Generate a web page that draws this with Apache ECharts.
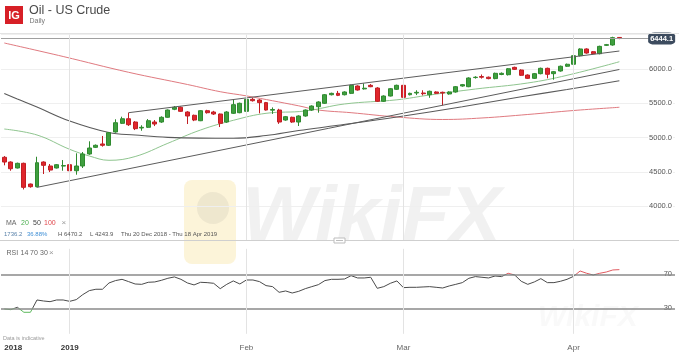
<!DOCTYPE html>
<html><head><meta charset="utf-8">
<script src="https://cdn.jsdelivr.net/npm/echarts/dist/echarts.min.js"></script>
<style>html,body{margin:0;padding:0;background:#fff}#c{width:679px;height:353px}</style>
</head><body><div id="c"></div>
<script>
// ---------- DATA ----------
const dates = [
 '2018-12-20','2018-12-21','2018-12-23','2018-12-24','2018-12-25','2018-12-26','2018-12-27','2018-12-28','2018-12-30','2018-12-31',
 '2019-01-01','2019-01-02','2019-01-03','2019-01-04','2019-01-06','2019-01-07','2019-01-08','2019-01-09','2019-01-10','2019-01-11',
 '2019-01-13','2019-01-14','2019-01-15','2019-01-16','2019-01-17','2019-01-18','2019-01-20','2019-01-21','2019-01-22','2019-01-23',
 '2019-01-24','2019-01-25','2019-01-27','2019-01-28','2019-01-29','2019-01-30','2019-01-31',
 '2019-02-01','2019-02-03','2019-02-04','2019-02-05','2019-02-06','2019-02-07','2019-02-08','2019-02-10','2019-02-11','2019-02-12',
 '2019-02-13','2019-02-14','2019-02-15','2019-02-17','2019-02-18','2019-02-19','2019-02-20','2019-02-21','2019-02-22','2019-02-24',
 '2019-02-25','2019-02-26','2019-02-27','2019-02-28',
 '2019-03-01','2019-03-03','2019-03-04','2019-03-05','2019-03-06','2019-03-07','2019-03-08','2019-03-10','2019-03-11','2019-03-12',
 '2019-03-13','2019-03-14','2019-03-15','2019-03-17','2019-03-18','2019-03-19','2019-03-20','2019-03-21','2019-03-22','2019-03-24',
 '2019-03-25','2019-03-26','2019-03-27','2019-03-28','2019-03-29','2019-03-31',
 '2019-04-01','2019-04-02','2019-04-03','2019-04-04','2019-04-05','2019-04-07','2019-04-08','2019-04-09',
 '2019-04-10','2019-04-11','2019-04-12','2019-04-14','2019-04-15','2019-04-16','2019-04-17','2019-04-18'
];
const opens = [4713,4644,4557,4625,4323,4284,4644,4586,4557,4585,
 4605,4517,4586,4761,4858,4907,4888,5082,5208,5275,
 5227,5140,5150,5227,5227,5296,5413,5442,5373,5325,
 5246,5392,5373,5344,5227,5354,5363,5383,5558,5548,
 5510,5400,5402,5256,5296,5227,5315,5402,5450,5500,
 5625,5645,5625,5645,5752,5710,5762,5723,5529,5606,
 5704,5762,5625,5650,5650,5625,5665,5660,5636,5665,
 5752,5742,5875,5890,5880,5860,5920,5917,6024,5985,
 5912,5864,5932,6010,5932,5971,6040,6069,6194,6292,
 6252,6223,6345,6350,6460];
const closes = [4644,4546,4625,4275,4284,4634,4596,4527,4605,4592,
 4517,4586,4761,4848,4888,4888,5072,5217,5275,5188,
 5130,5150,5246,5198,5296,5402,5442,5383,5315,5256,
 5392,5363,5344,5208,5373,5480,5500,5558,5538,5510,
 5402,5410,5227,5305,5227,5315,5402,5460,5519,5625,
 5645,5616,5665,5762,5694,5720,5742,5529,5606,5713,
 5762,5587,5645,5660,5640,5675,5645,5650,5665,5742,
 5772,5869,5880,5880,5860,5937,5937,6004,5995,5908,
 5864,5932,6010,5923,5961,6040,6069,6194,6292,6233,
 6223,6330,6355,6457,6444.1];
const lows = [4596,4517,4550,4243.9,4270,4275,4469,4498,4550,4517,
 4510,4459,4557,4750,4848,4868,4878,5072,5198,5170,
 5110,5100,5140,5168,5215,5290,5400,5375,5198,5240,
 5240,5350,5330,5154,5215,5345,5355,5375,5525,5354,
 5395,5345,5200,5245,5215,5169,5305,5390,5363,5490,
 5615,5605,5615,5635,5685,5700,5735,5520,5520,5600,
 5695,5578,5615,5620,5615,5580,5635,5471,5626,5655,
 5742,5735,5860,5860,5850,5850,5910,5905,5985,5898,
 5854,5854,5922,5864,5844,5961,6030,6059,6184,6223,
 6213,6213,6335,6340,6435];
const highs = [4731,4654,4635,4635,4330,4721,4654,4615,4615,4673,
 4620,4771,4790,4946,4900,5024,5082,5267,5305,5363,
 5240,5180,5270,5256,5310,5410,5460,5455,5385,5335,
 5400,5405,5390,5350,5385,5558,5510,5600,5580,5560,
 5520,5440,5420,5315,5305,5325,5410,5470,5530,5635,
 5655,5680,5675,5772,5762,5790,5780,5735,5616,5723,
 5772,5772,5655,5690,5690,5685,5675,5670,5675,5752,
 5782,5879,5895,5920,5890,5947,5950,6014,6034,5995,
 5922,5942,6020,6020,5971,6050,6079,6204,6302,6302,
 6262,6340,6365,6470.2,6465];
// moving averages: [candle index, value]
const ma20 = [[0,5125],[5,5038],[10,4829],[13,4732],[16,4669],[20,4724],[25,4917],[30,5111],[35,5252],[40,5354],[46,5388],[52,5490],[60,5551],[65,5621],[72,5708],[80,5796],[86,5908],[94,6106]];
const ma50 = [[0,5643],[2,5563],[5,5446],[10,5242],[16,5074],[20,5038],[25,5004],[35,4990],[40,5030],[45,5103],[51,5179],[60,5300],[70,5450],[79,5595],[86,5701],[94,5829]];
const ma100 = [[0,6379],[9,6182],[19,5952],[28,5774],[33,5669],[37,5608],[45,5463],[48,5402],[53,5363],[60,5300],[67,5264],[73,5286],[80,5337],[87,5395],[94,5442]];
// trend channel end points: [candle index, price]
const upperChannel = [[19,5363],[94,6262]];
const lowerChannel = [[5,4275],[94,5993]];
const rsi = [29.2,28.4,31.2,25.3,25.3,39.8,38.6,37.8,39.8,39.8,
 38.2,40.2,46.1,50.8,52.4,52.4,59.8,62.6,64.1,61.4,
 58.6,58.2,60.6,61.0,62.9,65.3,66.9,64.1,59.8,57.5,
 60.6,60.2,59.4,53.1,58.2,62.2,58.6,63.3,63.3,61.4,
 56.7,55.5,48.8,50.4,48.0,50.0,53.1,55.5,57.8,62.6,
 64.1,64.1,64.5,68.4,65.7,65.7,66.5,53.5,55.5,59.4,
 62.2,54.3,54.7,54.7,55.1,55.5,54.7,53.9,56.3,58.2,
 60.2,65.3,67.3,66.5,65.7,68.0,67.3,71.2,69.2,61.8,
 58.2,61.0,64.9,60.2,60.2,61.8,64.1,67.6,73.9,71.2,
 69.2,71.2,72.7,75.1,75.5];
const monthIdx = [10,37,61,87];
const xTickIdx = [0,10,37,61,87];
const xTickLabels = ['2018','2019','Feb','Mar','Apr'];
const lastPrice = 6444.1;

// ---------- CHART ----------
const FONT = 'Liberation Sans, Arial, sans-serif';
const chart = echarts.init(document.getElementById('c'));
const candles = opens.map((o,i)=>[o, closes[i], lows[i], highs[i]]);
const toPairs = arr => arr.map(p=>[dates[p[0]], p[1]]);
const monthLines = {silent:true, symbol:['none','none'], label:{show:false},
  lineStyle:{color:'#e3e3e3', width:1, type:'solid'}, data:monthIdx.map(i=>({xAxis:dates[i]}))};

const txt = (text,x,y,size,fill) => ({type:'text', z:50, style:{text, x, y, fontSize:size, fontFamily:FONT, fill, textVerticalAlign:'middle', verticalAlign:'middle'}});

chart.setOption({
  animation:false,
  backgroundColor:'#fff',
  textStyle:{fontFamily:FONT},
  grid:[
    {left:1, width:674, top:34.7, height:205.8, containLabel:false, outerBoundsMode:'none'},
    {left:1, width:674, top:248.8, height:85, containLabel:false, outerBoundsMode:'none'}
  ],
  xAxis:[
    {type:'category', gridIndex:0, data:dates, boundaryGap:true,
     axisLine:{show:false}, axisTick:{show:false}, axisLabel:{show:false}, splitLine:{show:false}},
    {type:'category', gridIndex:1, data:dates, boundaryGap:true,
     axisLine:{show:false}, axisTick:{show:false}, splitLine:{show:false},
     axisLabel:{show:true, margin:10, interval:(i)=>xTickIdx.includes(i),
       formatter:(v,i)=>{const k=xTickIdx.indexOf(i); if(k<0) return ''; const t=xTickLabels[k];
         if(k===0) return '{first|'+t+'}'; if(/^\d{4}$/.test(t)) return '{yr|'+t+'}'; return '{mo|'+t+'}';},
       rich:{first:{fontWeight:'bold',color:'#333',fontSize:8,fontFamily:FONT,padding:[0,0,0,18]},
             yr:{fontWeight:'bold',color:'#333',fontSize:8,fontFamily:FONT},
             mo:{color:'#666',fontSize:8,fontFamily:FONT}}}}
  ],
  yAxis:[
    {type:'value', gridIndex:0, position:'right', min:3500, max:6500, interval:500,
     axisLine:{show:false}, axisTick:{show:false},
     axisLabel:{inside:true, margin:2, fontSize:7.5, color:'#555', fontFamily:FONT,
       formatter:v=>(v===3500||v===6500)?'':v.toFixed(1), backgroundColor:'#fff', padding:[1,1]},
     splitLine:{lineStyle:{color:'#efefef', width:1}}},
    {type:'value', gridIndex:1, position:'right', min:0, max:100, interval:10,
     axisLine:{show:false}, axisTick:{show:false},
     axisLabel:{inside:true, margin:2, fontSize:7.5, color:'#555', fontFamily:FONT,
       formatter:v=>(v===30||v===70)?String(v):'', backgroundColor:'#fff', padding:[1,1]},
     splitLine:{show:false}}
  ],
  visualMap:[{type:'piecewise', show:false, seriesIndex:4,
    pieces:[{lt:30,color:'#5cb85c'},{gte:30,lte:70,color:'#4a4a4a'},{gt:70,color:'#e05a60'}]}],
  series:[
    {type:'candlestick', xAxisIndex:0, yAxisIndex:0, data:candles, barWidth:'68%', z:3,
     itemStyle:{color:'#3f9f3f', borderColor:'#2f8a2f', color0:'#e0262c', borderColor0:'#c11e24', borderWidth:1},
     markLine:{silent:true, symbol:['none','none'], label:{show:false},
       lineStyle:{color:'#5c5c5c', width:1, type:'solid'},
       data:[
         {yAxis:lastPrice, lineStyle:{color:'#a0a0a0', width:1, type:'solid'}},
         [{coord:[dates[upperChannel[0][0]], upperChannel[0][1]]},{coord:[dates[upperChannel[1][0]], upperChannel[1][1]]}],
         [{coord:[dates[lowerChannel[0][0]], lowerChannel[0][1]]},{coord:[dates[lowerChannel[1][0]], lowerChannel[1][1]]}]
       ]},
     markPoint:{silent:true, symbol:'roundRect', symbolSize:[27,12], symbolOffset:[3,0],
       itemStyle:{color:'#3d4c5f'},
       label:{show:true, color:'#fff', fontSize:7.5, fontWeight:'bold', fontFamily:FONT, formatter:lastPrice.toFixed(1)},
       data:[{coord:[dates[100], lastPrice]}]}
    },
    {type:'line', name:'MA20', xAxisIndex:0, yAxisIndex:0, data:toPairs(ma20), smooth:0.4, showSymbol:false, z:2,
     lineStyle:{color:'#8fc58f', width:1}},
    {type:'line', name:'MA50', xAxisIndex:0, yAxisIndex:0, data:toPairs(ma50), smooth:0.4, showSymbol:false, z:2,
     lineStyle:{color:'#5a5a5a', width:1.1}},
    {type:'line', name:'MA100', xAxisIndex:0, yAxisIndex:0, data:toPairs(ma100), smooth:0.4, showSymbol:false, z:1,
     lineStyle:{color:'#e07a80', width:1}, markLine:monthLines},
    {type:'line', name:'RSI', xAxisIndex:1, yAxisIndex:1, data:rsi, showSymbol:false, z:3,
     lineStyle:{width:1},
     markLine:{silent:true, symbol:['none','none'], label:{show:false},
       lineStyle:{color:'#8a8a8a', width:1.5, type:'solid'},
       data:[{yAxis:70},{yAxis:30}].concat(monthIdx.map(i=>({xAxis:dates[i], lineStyle:{color:'#e3e3e3', width:1}})))}}
  ],
  graphic:[
    // watermark
    {type:'rect', z:0, shape:{x:184,y:180,width:52,height:84,r:8}, style:{fill:'rgba(246,214,120,0.28)'}},
    {type:'circle', z:0, shape:{cx:213,cy:208,r:16}, style:{fill:'rgba(120,120,120,0.10)'}},
    {type:'text', z:0, style:{text:'WikiFX', x:242, y:219, font:'italic bold 78px Liberation Sans, Arial, sans-serif', fill:'rgba(175,175,175,0.18)', textVerticalAlign:'middle', verticalAlign:'middle'}},
    {type:'text', z:0, style:{text:'WikiFX', x:538, y:318, font:'italic bold 30px Liberation Sans, Arial, sans-serif', fill:'rgba(170,170,170,0.07)', textVerticalAlign:'middle', verticalAlign:'middle'}},
    // header
    {type:'line', z:40, shape:{x1:0,y1:33.5,x2:679,y2:33.5}, style:{stroke:'#e3e3e3', lineWidth:1}},
    {type:'rect', z:50, shape:{x:5,y:6,width:18,height:18}, style:{fill:'#d71f26'}},
    {type:'text', z:51, style:{text:'IG', x:14, y:15.5, font:'bold 11px Liberation Sans, Arial, sans-serif', fill:'#fff', textAlign:'center', align:'center', textVerticalAlign:'middle', verticalAlign:'middle'}},
    txt('Oil - US Crude',29,11,12.5,'#4a4a4a'),
    txt('Daily',29.5,21,7,'#777'),
    // legend rows
    txt('MA',6,223,7,'#666'),
    txt('20',21,223,7,'#4caf50'),
    txt('50',33,223,7,'#444'),
    txt('100',44,223,7,'#e0474c'),
    txt('\u00d7',61.5,223,8,'#999'),
    txt('1736.2',4,234,6,'#5a82aa'),
    txt('36.88%',27,234,6,'#3f8fd6'),
    txt('H 6470.2',58,234,6,'#555'),
    txt('L 4243.9',90,234,6,'#555'),
    txt('Thu 20 Dec 2018 - Thu 18 Apr 2019',121,234,6,'#555'),
    // panel separator
    {type:'line', z:40, shape:{x1:0,y1:240.5,x2:679,y2:240.5}, style:{stroke:'#cfcfcf', lineWidth:1}},
    {type:'rect', z:45, shape:{x:334,y:238,width:11,height:5}, style:{fill:'#fff', stroke:'#bdbdbd', lineWidth:1}},
    {type:'line', z:46, shape:{x1:336,y1:240.5,x2:343,y2:240.5}, style:{stroke:'#bdbdbd', lineWidth:1}},
    txt('RSI',6.5,253,7,'#666'),
    txt('14',20.5,253,7,'#666'),
    txt('70',30,253,7,'#666'),
    txt('30',40,253,7,'#666'),
    txt('\u00d7',49,253,8,'#999'),
    txt('Data is indicative',3,338,5.5,'#9a9a9a')
  ]
});
</script></body></html>
